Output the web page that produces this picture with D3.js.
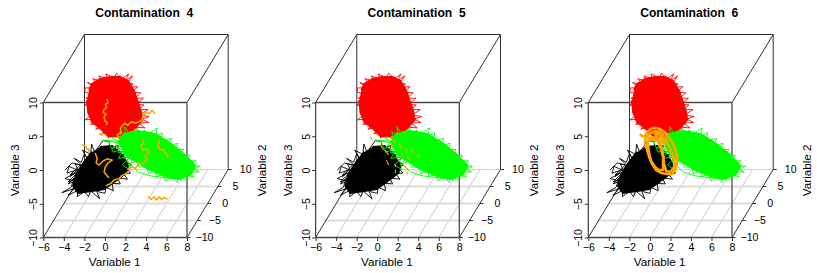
<!DOCTYPE html>
<html>
<head>
<meta charset="utf-8">
<script src="https://cdn.jsdelivr.net/npm/d3@7"></script>
<style>
    html, body { margin: 0; padding: 0; background: #fff; }
    svg { display: block; }
    text { font-family: "Liberation Sans", Arial, sans-serif; fill: #000; }
</style>
</head>
<body>
<svg id="chart" width="817" height="273"></svg>
<script>
const titles = ['Contamination  4', 'Contamination  5', 'Contamination  6'];
const panel_offsets = [0, 272.3, 545];

const x_ticks = [-6, -4, -2, 0, 2, 4, 6, 8];
const y_ticks = [-10, -5, 0, 5, 10];
const z_ticks = [-10, -5, 0, 5, 10];
const cloud_v2 = 0;

// [variable 1, variable 3] pairs, all clouds read at variable 2 = 0
const black_core = [[-2.47,-1.63],[-1.3,-1.48],[-0.33,-2.81],[0.26,-4.3],[0.06,-5.48],[-1.11,-6.81],[-2.08,-7.85],[-3.25,-8.15],[-4.62,-8.44],[-5.1,-7.4],[-4.8,-5.63],[-4.03,-3.85],[-3.25,-2.37]];
const black_edge = [[-2.2,-0.7],[-3.0,-2.4],[-3.3,-1.2],[-3.4,-2.7],[-4.2,-2.1],[-3.7,-3.4],[-4.0,-2.6],[-4.3,-3.9],[-5.0,-3.3],[-4.2,-4.4],[-4.9,-4.1],[-4.6,-5.1],[-5.5,-4.5],[-5.7,-5.5],[-4.7,-5.0],[-5.4,-6.0],[-5.0,-5.6],[-5.9,-6.3],[-4.9,-6.7],[-5.6,-7.1],[-5.0,-6.2],[-5.3,-7.6],[-6.2,-8.4],[-5.0,-7.8],[-5.6,-8.8],[-4.6,-8.0],[-4.7,-9.0],[-4.0,-8.2],[-3.6,-9.0],[-3.4,-8.1],[-2.5,-9.3],[-2.8,-8.2],[-2.0,-8.5],[-1.9,-7.6],[-1.2,-8.1],[-1.3,-7.0],[-0.5,-7.1],[-0.8,-6.2],[0.2,-6.4],[-0.2,-5.6],[0.5,-5.5],[0.1,-4.8],[0.6,-4.2],[0.0,-3.9],[0.4,-3.1],[-0.4,-3.2],[0,-2.3],[-0.8,-2.4],[-0.7,-1.4],[-1.5,-1.9],[-1.6,-0.8],[-2.2,-0.7]];
const black_stray = [[-5.9,-5.04],[-5.2,-4.0],[-4.4,-4.3],[-5.4,-5.78],[-4.6,-5.33],[-5.6,-6.8],[-4.9,-6.5]];

const red_core = [[-3.55,6.81],[-3.25,7.7],[-2.47,8.45],[-1.5,8.74],[-0.52,8.74],[0.26,8.15],[0.84,6.66],[1.23,4.89],[1.52,3.55],[1.62,2.37],[0.94,1.19],[0.26,0.59],[-0.72,0],[-1.69,0],[-2.47,1.19],[-3.25,2.07],[-3.64,3.55],[-3.74,5.33]];
const red_edge = [[-3.95,7.1],[-3.0,7.2],[-3.7,7.9],[-2.7,7.6],[-3.2,8.5],[-2.3,8.1],[-2.6,8.9],[-1.7,8.4],[-1.9,9.2],[-1.1,8.6],[-0.9,9.3],[-0.3,8.5],[0.3,9.2],[0.0,8.2],[0.7,8.9],[0.2,7.9],[0.75,7.7],[0.3,7.2],[1.2,7.3],[0.6,6.5],[1.5,6.4],[0.9,5.6],[1.75,5.6],[1.1,4.7],[1.8,4.6],[1.3,3.9],[2.2,3.9],[1.4,3.1],[2.3,2.9],[1.6,2.5],[2.25,2.0],[1.3,1.9],[1.9,1.2],[1.0,1.3],[1.4,0.6],[0.4,0.9],[0.6,0.1],[-0.2,0.5],[-0.6,-0.4],[-0.9,0.4],[-1.7,-0.3],[-1.5,0.7],[-2.3,0.3],[-1.9,1.4],[-2.9,1.0],[-2.4,1.9],[-3.4,1.7],[-2.9,2.5],[-3.95,2.4],[-3.2,3.2],[-3.7,3.5],[-3.1,4.2],[-4.0,4.6],[-3.2,5.2],[-3.85,5.6],[-3.1,6.1],[-3.95,6.5],[-3.95,7.1]];

const green_core = [[-0.72,-1.04],[-0.13,0.3],[1.23,0.74],[2.89,0.3],[4.35,-1.04],[5.8,-2.81],[6.8,-4.44],[6.3,-5.78],[5.13,-6.37],[3.86,-5.93],[2.4,-5.04],[0.94,-3.7],[-0.13,-2.67]];
const green_edge = [[-2.2,-0.6],[-0.6,-0.8],[-1.4,-0.2],[-0.4,-0.2],[-0.6,0.6],[0.0,0.2],[-0.1,1.4],[0.4,0.3],[1.0,1.0],[1.2,0.2],[1.9,0.9],[2.0,0.1],[3.1,1.2],[2.9,-0.1],[3.6,0.5],[3.5,-0.6],[4.5,-0.4],[4.2,-1.4],[5.1,-1.1],[4.9,-2.0],[5.7,-2.0],[5.3,-2.8],[6.3,-2.9],[5.9,-3.6],[6.9,-3.7],[6.3,-4.2],[7.3,-4.5],[6.6,-4.9],[7.2,-5.3],[6.3,-5.4],[6.7,-6.1],[5.8,-5.7],[6.0,-6.6],[5.2,-6.0],[5.0,-6.9],[4.5,-6.0],[3.9,-6.7],[3.7,-5.7],[3.0,-6.0],[3.0,-5.1],[2.2,-5.6],[2.1,-4.6],[1.3,-4.6],[1.2,-3.7],[0.6,-4.0],[0.6,-3.0],[-0.1,-3.3],[-0.1,-2.3],[-0.7,-2.5],[-0.5,-1.6],[-1.3,-1.8],[-0.7,-1.0],[-2.2,-0.6]];
const green_stray = [[-1.7,-0.6],[-1.2,-2.4],[-0.03,-1.8],[-0.7,-3.3],[0.45,-3.1],[-0.3,-4.3],[0.45,-5.04],[0.16,-3.56],[1.2,-5.3],[2.4,-5.9],[4,-6.2],[5.5,-6.5]];

const orange_4 = [
    [[-1.8,5.5],[-1.7,4.9],[-1.95,4.7],[-1.85,4.2],[-2.1,3.9],[-2.2,3.5],[-1.9,3.2],[-2.1,2.8],[-2.0,2.2],[-1.8,2.0],[-1.85,1.6]],
    [[2.9,3.3],[2.6,3.8],[2.3,3.3],[2.0,3.5],[1.7,3.0],[1.6,2.4],[1.3,2.1],[1.0,1.9],[0.6,2.1],[0.2,1.6],[-0.1,1.9],[-0.5,1.2],[-0.4,0.5],[-0.8,0.2],[-0.7,-0.4]],
    [[-2.55,0.4],[-2.3,0.1],[-2.2,0.5]],
    [[-4.2,-1.3],[-3.9,-1.5],[-3.8,-1.9],[-3.55,-2.0],[-3.6,-2.4]],
    [[-2.96,-2.52],[-2.76,-3.26],[-2.86,-4.0],[-2.57,-4.3],[-2.18,-3.7],[-1.79,-3.4],[-1.3,-3.56],[-1.69,-4.0],[-1.98,-4.6],[-2.08,-5.33],[-1.79,-5.93],[-1.6,-6.2]],
    [[0.2,-5.4],[-0.4,-5.9],[-0.6,-6.3],[-1.1,-6.5],[-1.4,-7.0],[-1.9,-7.4]],
    [[0.2,-5.0],[0.6,-4.6],[1.0,-4.8],[1.3,-4.0],[1.7,-4.1],[2.1,-3.5],[1.9,-2.9],[2.3,-2.5],[2.1,-1.9],[1.7,-2.1],[1.5,-1.5],[1.8,-1.0],[1.65,-0.5]],
    [[3.1,-0.5],[3.3,-1.0],[3.1,-1.5],[3.4,-2.0],[3.7,-2.1],[4.0,-2.7],[4.2,-3.1]],
    [[2.2,-8.9],[2.5,-9.4],[2.8,-9.0],[3.0,-9.5],[3.3,-9.0],[3.5,-9.4],[3.8,-9.1],[4.1,-9.4]],
];
const orange_5 = [
    [[-2.7,-0.1],[-2.5,-0.6]],
    [[-1.7,-1.3],[-1.4,-2.1]],
    [[-1.2,-2.1],[-0.9,-2.8]],
    [[-0.7,-1.0],[-0.5,-1.8]],
    [[0.1,-1.0],[0.4,-1.8]],
    [[0.7,-1.8],[1.0,-2.5]],
    [[1.4,-2.1],[1.6,-2.5]],
    [[-0.05,-3.3],[0.25,-3.85]],
    [[-1.1,-3.6],[-0.9,-4.3]],
    [[-0.3,-4.1],[-0.2,-4.6]],
    [[0.55,-4.3],[1.0,-5.0]],
    [[0.9,-3.0],[1.2,-3.6]],
    [[-0.2,-5.0],[-0.25,-5.5]],
    [[0.85,-5.3],[1.0,-5.6]],
    [[-0.5,-0.6],[-0.2,-1.2]],
    [[1.9,-2.7],[2.1,-3.3]],
    [[0.3,-2.5],[0.6,-3.0]],
];
const orange_6 = [
    [[-1.79,1.19],[-1.3,1.19],[-0.72,0.74],[-0.23,0.0],[0.16,-0.89],[0.45,-1.93],[0.65,-2.96],[0.65,-4.0],[0.45,-5.04],[0.16,-5.63],[-0.33,-5.63],[-0.91,-5.48],[-1.4,-5.04],[-1.79,-4.15],[-2.08,-3.11],[-2.28,-2.07],[-2.47,-1.04],[-2.47,0.0],[-2.18,0.74],[-1.79,1.19]],
    [[-1.89,-0.15],[-1.4,-0.3],[-1.11,-1.04],[-0.91,-2.07],[-0.72,-3.11],[-0.72,-4.3],[-0.72,-5.04],[-1.11,-5.04],[-1.5,-4.59],[-1.89,-3.7],[-2.08,-2.52],[-2.18,-1.48],[-2.18,-0.59],[-1.89,-0.15]],
    [[-1.3,0.74],[-0.81,0.3],[-0.42,-0.59],[-0.13,-1.63],[0.16,-2.52],[0.36,-3.56],[0.36,-4.59],[-0.04,-5.33],[-0.42,-5.19],[-0.62,-4.15],[-0.81,-2.07],[-1.11,-0.74],[-1.5,0.3],[-1.3,0.74]],
    [[-2.08,0.3],[-1.5,0.74],[-0.91,-0.15],[-0.52,-1.19],[-1.69,-0.45],[-2.08,-0.59],[-2.28,-0.15],[-2.08,0.3]],
    [[-3.0,0.2],[-2.6,-0.1]],
];
const orange_sets = [orange_4, orange_5, orange_6];
const orange_widths = [1.5, 1.1, 2.6];

const x_scale = d3.scaleLinear().domain([-6, 8]).range([43.3, 187]);
const z_scale = d3.scaleLinear().domain([-10, 10]).range([237.5, 102.5]);
const depth_x = d3.scaleLinear().domain([-10, 10]).range([0, 41.2]);
const depth_y = d3.scaleLinear().domain([-10, 10]).range([0, -68]);

const cloud_line = d3.line()
    .x(d => x_scale(d[0]) + depth_x(cloud_v2))
    .y(d => z_scale(d[1]) + depth_y(cloud_v2));

const corner_line = d3.line()
    .x(d => x_scale(d[0]) + depth_x(d[1]))
    .y(d => z_scale(d[2]) + depth_y(d[1]));


function draw_edges(group, edges, color, width) {
    group.selectAll(null)
        .data(edges)
        .join('path')
        .attr('d', corner_line)
        .attr('fill', 'none')
        .attr('stroke', color)
        .attr('stroke-width', width);
}


function draw_box(group) {
    draw_edges(group, x_ticks.slice(1, -1).map(v => [[v, -10, -10], [v, 10, -10]]), '#bcbcbc', 0.8);
    draw_edges(group, y_ticks.slice(1, -1).map(v => [[-6, v, -10], [8, v, -10]]), '#dcdcdc', 1.8);
    draw_edges(group, [[[-6, 10, -10], [8, 10, -10]]], '#c4c4c4', 0.8);
    draw_edges(group, [
        [[-6, -10, -10], [-6, 10, -10]],
        [[8, -10, -10], [8, 10, -10]],
        [[-6, 10, -10], [-6, 10, 10]],
        [[8, 10, -10], [8, 10, 10]],
        [[-6, 10, 10], [8, 10, 10]],
        [[-6, -10, 10], [-6, 10, 10]],
        [[8, -10, 10], [8, 10, 10]],
    ], '#1a1a1a', 0.9);
    draw_edges(group, [
        [[-6, -10, -10], [8, -10, -10]],
        [[-6, -10, 10], [8, -10, 10]],
        [[-6, -10, -10], [-6, -10, 10]],
        [[8, -10, -10], [8, -10, 10]],
    ], '#4a4a4a', 1.3);
}


function draw_axes(group) {
    const x_axis = d3.axisBottom(x_scale)
        .tickValues(x_ticks)
        .tickSize(3.5)
        .tickPadding(2)
        .tickFormat(d => String(d).replace('-', '\u2212'));
    const x_group = group.append('g').attr('transform', 'translate(0,237.5)').call(x_axis);
    x_group.select('.domain').remove();
    x_group.selectAll('line').attr('stroke', '#333');
    x_group.selectAll('text').attr('font-size', 10.6);

    const z_axis = d3.axisLeft(z_scale)
        .tickValues(z_ticks)
        .tickSize(3.5)
        .tickFormat(d => String(d).replace('-', '\u2212'));
    const z_group = group.append('g').attr('transform', 'translate(43.3,0)').call(z_axis);
    z_group.select('.domain').remove();
    z_group.selectAll('line').attr('stroke', '#333');
    z_group.selectAll('text')
        .attr('font-size', 10.6)
        .attr('text-anchor', 'middle')
        .attr('x', null)
        .attr('dy', null)
        .attr('transform', 'translate(-6,0) rotate(-90)');

    const y_group = group.selectAll('.y-tick')
        .data(y_ticks)
        .join('g')
        .attr('class', 'y-tick')
        .attr('transform', d => `translate(${x_scale(8) + depth_x(d)},${z_scale(-10) + depth_y(d)})`);
    y_group.append('line').attr('x2', 3.5).attr('stroke', '#333');
    y_group.append('text')
        .attr('x', 17.5)
        .attr('dy', 3.6)
        .attr('font-size', 10.6)
        .attr('text-anchor', 'middle')
        .text(d => String(d).replace('-', '\u2212'));
}


function draw_labels(group, title) {
    group.append('text')
        .attr('x', 144.3)
        .attr('y', 17.3)
        .attr('font-size', 12.1)
        .attr('font-weight', 'bold')
        .attr('text-anchor', 'middle')
        .attr('xml:space', 'preserve')
        .style('white-space', 'pre')
        .text(title);
    group.append('text')
        .attr('x', 114.7)
        .attr('y', 265.8)
        .attr('font-size', 11.7)
        .attr('text-anchor', 'middle')
        .text('Variable 1');
    group.append('text')
        .attr('transform', 'translate(19.2,170.3) rotate(-90)')
        .attr('font-size', 11.7)
        .attr('text-anchor', 'middle')
        .text('Variable 3');
    group.append('text')
        .attr('transform', 'translate(265.6,170.3) rotate(-90)')
        .attr('font-size', 11.7)
        .attr('text-anchor', 'middle')
        .text('Variable 2');
}


function draw_cloud(group, core, edge, stray, color) {
    group.append('path').attr('d', cloud_line(core)).attr('fill', color).attr('stroke', color).attr('stroke-width', 2);
    group.append('path').attr('d', cloud_line(edge)).attr('fill', 'none').attr('stroke', color).attr('stroke-width', 0.9);
    if (stray) {
        group.append('path').attr('d', cloud_line(stray)).attr('fill', 'none').attr('stroke', color).attr('stroke-width', 0.9);
    }
}


function draw_panel(svg, index) {
    const group = svg.append('g').attr('transform', `translate(${panel_offsets[index]},0)`);
    draw_box(group);
    draw_axes(group);
    draw_labels(group, titles[index]);
    draw_cloud(group, black_core, black_edge, black_stray, '#000');
    draw_cloud(group, red_core, red_edge, null, '#f00');
    draw_cloud(group, green_core, green_edge, green_stray, '#0f0');
    group.selectAll('.orange')
        .data(orange_sets[index])
        .join('path')
        .attr('class', 'orange')
        .attr('d', cloud_line)
        .attr('fill', 'none')
        .attr('stroke', 'orange')
        .attr('stroke-width', orange_widths[index])
        .attr('stroke-linejoin', 'round');
}


const svg = d3.select('#chart');
titles.forEach((title, index) => draw_panel(svg, index));
</script>
</body>
</html>
